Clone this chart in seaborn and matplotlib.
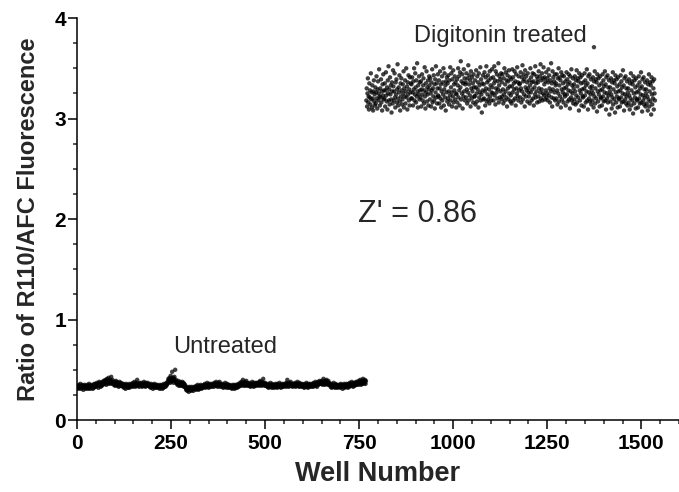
import numpy as np
import pandas as pd
import matplotlib
matplotlib.use("Agg")
import matplotlib.pyplot as plt
from matplotlib.ticker import MultipleLocator
import seaborn as sns

# ratio x100, wells 1..768 (untreated) and 769..1536 (digitonin)
untreated = [
    32, 34, 33, 31, 35, 33, 32, 34, 36, 33, 31, 33, 34, 32, 35, 33, 30, 34, 33, 32, 35, 34, 31, 33,
    34, 32, 33, 35, 31, 33, 34, 36, 32, 33, 31, 34, 35, 33, 32, 34, 33, 31, 35, 34, 32, 36, 33, 34,
    34, 36, 33, 35, 37, 34, 36, 35, 32, 36, 38, 34, 35, 37, 33, 36, 35, 34, 38, 36, 35, 37, 39, 36,
    37, 39, 36, 40, 38, 35, 39, 41, 37, 38, 36, 42, 39, 37, 40, 38, 36, 39, 43, 37, 38, 40, 36, 38,
    37, 35, 38, 36, 34, 37, 39, 35, 36, 38, 34, 36, 37, 35, 33, 36, 38, 35, 34, 36, 37, 35, 34, 36,
    35, 33, 34, 36, 32, 34, 35, 33, 31, 34, 36, 33, 35, 34, 32, 33, 35, 34, 32, 36, 34, 33, 35, 34,
    34, 36, 35, 33, 37, 35, 34, 36, 38, 35, 33, 36, 34, 35, 37, 40, 35, 34, 36, 35, 33, 36, 37, 35,
    36, 34, 35, 37, 33, 35, 36, 34, 35, 38, 34, 36, 35, 33, 37, 35, 34, 36, 35, 37, 34, 35, 36, 34,
    33, 35, 34, 32, 36, 34, 33, 35, 34, 31, 35, 33, 34, 36, 32, 34, 33, 35, 34, 32, 33, 35, 34, 33,
    32, 34, 33, 31, 35, 33, 34, 32, 33, 35, 31, 33, 34, 32, 36, 33, 34, 35, 33, 36, 34, 37, 35, 36,
    37, 39, 41, 38, 40, 42, 39, 37, 44, 40, 38, 41, 48, 39, 42, 40, 37, 41, 43, 39, 50, 38, 40, 37,
    38, 36, 35, 37, 39, 36, 34, 37, 35, 38, 36, 34, 37, 35, 36, 38, 34, 35, 37, 33, 36, 34, 35, 33,
    32, 30, 31, 33, 29, 31, 32, 30, 28, 31, 33, 30, 32, 31, 29, 31, 33, 30, 32, 31, 29, 32, 31, 33,
    31, 33, 32, 30, 34, 32, 31, 33, 35, 32, 30, 33, 31, 34, 32, 33, 35, 32, 31, 34, 33, 32, 34, 33,
    35, 33, 34, 36, 32, 34, 35, 33, 34, 37, 33, 35, 34, 32, 36, 34, 35, 33, 34, 36, 34, 33, 35, 34,
    34, 36, 35, 33, 37, 35, 36, 34, 35, 38, 34, 36, 35, 33, 37, 35, 34, 36, 38, 35, 33, 36, 35, 34,
    35, 33, 34, 36, 32, 34, 35, 33, 34, 37, 33, 35, 34, 32, 36, 34, 33, 35, 34, 32, 35, 33, 34, 33,
    32, 34, 33, 31, 35, 33, 34, 32, 33, 35, 31, 34, 33, 32, 35, 33, 34, 32, 35, 34, 36, 33, 35, 34,
    35, 37, 36, 34, 38, 36, 35, 37, 40, 36, 34, 37, 35, 38, 36, 34, 37, 39, 36, 35, 37, 34, 36, 35,
    36, 34, 35, 37, 33, 35, 36, 34, 35, 38, 34, 36, 35, 33, 37, 35, 34, 36, 35, 37, 34, 36, 35, 37,
    35, 37, 36, 34, 38, 36, 39, 35, 37, 36, 34, 38, 36, 35, 41, 37, 35, 36, 34, 37, 35, 36, 34, 35,
    35, 33, 34, 36, 32, 34, 35, 33, 34, 37, 33, 35, 34, 32, 36, 34, 33, 35, 34, 32, 35, 33, 34, 36,
    33, 35, 34, 32, 36, 34, 33, 35, 34, 37, 33, 35, 34, 32, 35, 34, 36, 33, 34, 35, 33, 34, 36, 35,
    34, 36, 35, 33, 37, 35, 40, 34, 36, 35, 33, 37, 35, 34, 36, 38, 35, 34, 36, 35, 33, 36, 35, 34,
    36, 34, 35, 37, 33, 35, 36, 34, 35, 38, 34, 36, 35, 33, 37, 35, 34, 36, 35, 33, 34, 36, 35, 34,
    33, 35, 34, 32, 36, 34, 33, 35, 34, 37, 33, 35, 34, 32, 36, 34, 35, 33, 34, 36, 35, 34, 33, 35,
    34, 36, 35, 33, 37, 35, 34, 36, 35, 38, 34, 36, 35, 33, 37, 36, 38, 35, 37, 36, 39, 37, 36, 38,
    38, 36, 37, 39, 35, 37, 41, 36, 38, 37, 35, 39, 37, 36, 40, 38, 36, 37, 35, 39, 36, 37, 35, 36,
    35, 33, 34, 36, 32, 34, 35, 33, 34, 37, 33, 35, 34, 32, 36, 34, 33, 35, 34, 32, 35, 33, 34, 33,
    33, 35, 34, 32, 36, 34, 33, 35, 34, 31, 35, 33, 34, 36, 32, 34, 35, 33, 34, 36, 33, 35, 34, 32,
    34, 36, 35, 33, 37, 35, 34, 36, 35, 38, 34, 36, 35, 33, 37, 35, 36, 34, 37, 35, 36, 38, 35, 36,
    36, 38, 37, 35, 39, 37, 36, 38, 40, 37, 35, 38, 36, 39, 37, 41, 38, 36, 39, 37, 40, 38, 36, 39,
]

digitonin = [
    318, 330, 312, 325, 340, 316, 322, 309, 335, 321, 328, 314, 345, 319, 326, 311, 333, 320, 308, 327, 338, 317, 324, 313,
    331, 315, 326, 342, 320, 310, 329, 337, 318, 325, 349, 322, 313, 330, 321, 339, 316, 327, 308, 334, 323, 344, 319, 328,
    320, 335, 312, 328, 346, 323, 317, 331, 309, 338, 325, 352, 318, 329, 314, 341, 324, 333, 319, 306, 336, 327, 315, 348,
    332, 318, 327, 345, 321, 311, 336, 324, 339, 316, 329, 354, 320, 313, 331, 326, 343, 317, 308, 335, 322, 340, 328, 314,
    319, 334, 325, 347, 311, 330, 322, 338, 315, 327, 350, 321, 332, 309, 336, 324, 343, 318, 329, 313, 341, 326, 335, 320,
    334, 320, 341, 326, 313, 337, 329, 350, 318, 324, 345, 331, 316, 338, 322, 355, 327, 311, 333, 324, 342, 319, 336, 328,
    321, 337, 312, 329, 344, 324, 318, 333, 340, 315, 328, 351, 322, 310, 335, 326, 347, 317, 331, 324, 338, 313, 329, 342,
    333, 319, 340, 325, 312, 336, 328, 349, 316, 330, 322, 343, 318, 334, 310, 339, 326, 352, 321, 335, 315, 330, 344, 323,
    322, 338, 315, 330, 347, 320, 334, 311, 327, 342, 318, 336, 324, 350, 313, 329, 345, 321, 333, 308, 337, 326, 341, 317,
    335, 320, 343, 327, 314, 338, 323, 351, 318, 331, 345, 326, 312, 339, 322, 348, 316, 334, 328, 342, 319, 336, 325, 311,
    324, 339, 316, 333, 350, 321, 342, 328, 313, 346, 331, 357, 319, 337, 325, 344, 310, 335, 322, 349, 327, 340, 318, 334,
    336, 321, 345, 329, 315, 340, 326, 353, 318, 334, 343, 323, 338, 312, 347, 330, 320, 341, 327, 335, 316, 344, 331, 322,
    322, 338, 314, 331, 348, 325, 317, 342, 329, 336, 311, 345, 321, 333, 326, 351, 318, 339, 324, 306, 335, 328, 343, 319,
    334, 320, 346, 327, 313, 341, 330, 352, 317, 336, 324, 343, 319, 338, 329, 315, 347, 322, 333, 340, 318, 326, 349, 331,
    325, 341, 318, 335, 352, 323, 338, 314, 347, 330, 326, 344, 320, 337, 329, 355, 316, 333, 342, 321, 339, 327, 345, 319,
    336, 322, 344, 329, 315, 340, 324, 350, 318, 334, 327, 346, 321, 338, 312, 343, 330, 337, 319, 348, 325, 332, 341, 317,
    323, 339, 315, 332, 349, 326, 341, 318, 335, 329, 347, 320, 337, 313, 344, 330, 325, 351, 322, 336, 318, 342, 328, 334,
    335, 321, 346, 330, 316, 341, 327, 353, 319, 337, 344, 324, 339, 312, 348, 331, 322, 342, 328, 336, 317, 345, 330, 326,
    322, 338, 315, 333, 350, 326, 341, 318, 336, 329, 345, 320, 337, 313, 344, 331, 324, 352, 321, 335, 327, 342, 316, 339,
    336, 322, 347, 330, 317, 342, 326, 354, 320, 338, 329, 345, 318, 340, 325, 351, 323, 334, 341, 319, 337, 328, 346, 321,
    325, 340, 318, 336, 349, 323, 343, 330, 316, 338, 327, 355, 321, 335, 312, 347, 329, 341, 320, 337, 326, 344, 318, 333,
    335, 320, 344, 328, 314, 340, 325, 350, 317, 333, 341, 322, 338, 311, 346, 329, 319, 343, 326, 335, 316, 342, 330, 324,
    322, 337, 313, 331, 346, 324, 339, 317, 334, 328, 344, 319, 336, 310, 342, 327, 321, 349, 318, 333, 325, 340, 315, 330,
    334, 319, 342, 327, 314, 338, 323, 348, 316, 332, 340, 321, 337, 308, 345, 328, 318, 341, 325, 335, 313, 343, 329, 322,
    321, 336, 312, 330, 345, 323, 338, 316, 333, 327, 349, 318, 335, 309, 342, 326, 320, 344, 317, 331, 324, 339, 314, 328,
    332, 318, 341, 325, 311, 337, 322, 347, 315, 330, 339, 320, 336, 307, 344, 327, 317, 340, 324, 333, 312, 342, 328, 321,
    320, 335, 313, 329, 344, 322, 338, 317, 332, 326, 347, 318, 334, 309, 341, 325, 320, 343, 316, 331, 323, 338, 304, 327,
    331, 317, 340, 324, 310, 336, 321, 346, 314, 329, 338, 319, 335, 306, 343, 326, 316, 339, 322, 332, 311, 341, 327, 320,
    319, 334, 312, 328, 343, 321, 337, 316, 331, 325, 348, 317, 333, 308, 340, 324, 319, 342, 315, 330, 322, 337, 313, 326,
    330, 316, 339, 323, 309, 335, 320, 345, 313, 328, 337, 318, 334, 305, 342, 325, 315, 338, 321, 331, 310, 340, 326, 319,
    318, 333, 311, 327, 342, 320, 336, 315, 330, 324, 346, 316, 332, 307, 339, 323, 318, 341, 314, 329, 321, 336, 312, 325,
    329, 315, 338, 322, 308, 334, 319, 344, 312, 327, 336, 317, 333, 304, 341, 324, 314, 337, 320, 330, 309, 339, 325, 318,
]

# lone outlier just under the "Digitonin treated" label
stray_well = [1374]
stray_value = [3.71]

xticks = [0, 250, 500, 750, 1000, 1250, 1500]
yticks = [0, 1, 2, 3, 4]

n_u = len(untreated)
wells = list(range(1, n_u + 1)) + list(range(n_u + 1, n_u + len(digitonin) + 1)) + stray_well
ratio = [v / 100 for v in untreated] + [v / 100 for v in digitonin] + stray_value
df = pd.DataFrame({"well": wells, "ratio": ratio})

sns.set_style("ticks")
plt.rcParams["font.family"] = ["Liberation Sans", "DejaVu Sans"]

fig = plt.figure(figsize=(6.79, 4.92), dpi=100)
ax = fig.add_axes([0.1134, 0.1463, 0.8866, 0.817])

sns.scatterplot(data=df, x="well", y="ratio", ax=ax, s=10, color="black",
                linewidth=0, edgecolor="none", alpha=0.75)

ax.set_xlim(0, 1600)
ax.set_ylim(0, 4)
ax.set_xticks(xticks)
ax.set_yticks(yticks)
ax.xaxis.set_minor_locator(MultipleLocator(50))
ax.yaxis.set_minor_locator(MultipleLocator(0.25))
ax.tick_params(which="major", length=6.5, width=1.1, labelsize=15, colors="black")
ax.tick_params(axis="y", which="major", pad=1.5)
ax.tick_params(which="minor", length=3, width=1.1)
for lab in ax.get_xticklabels() + ax.get_yticklabels():
    lab.set_fontweight("bold")
for sp in ["left", "bottom"]:
    ax.spines[sp].set_linewidth(1.1)
    ax.spines[sp].set_color("black")
sns.despine(ax=ax)

ax.set_xlabel("Well Number", fontsize=19.5, fontweight="bold", labelpad=6)
ax.set_ylabel("Ratio of R110/AFC Fluorescence", fontsize=17, fontweight="bold", labelpad=10)

ax.text(1125, 3.82, "Digitonin treated", fontsize=17, ha="center", va="center")
ax.text(393, 0.73, "Untreated", fontsize=17, ha="center", va="center")
ax.text(904, 2.05, "Z' = 0.86", fontsize=22, ha="center", va="center")

fig.savefig("out.png", dpi=100)
